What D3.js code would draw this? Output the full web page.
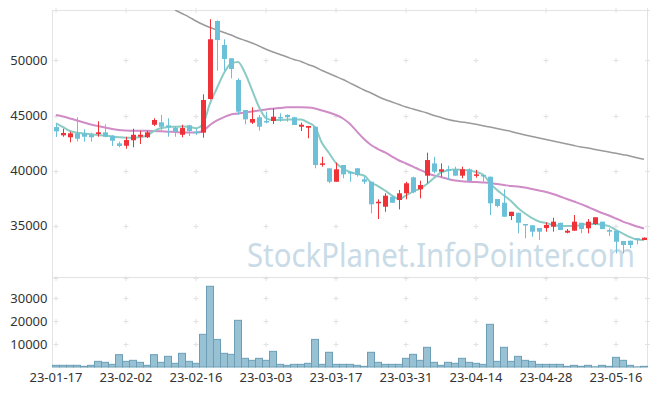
<!DOCTYPE html>
<html>
<head>
<meta charset="utf-8">
<script src="https://cdn.jsdelivr.net/npm/d3@7"></script>
<style>
  body { margin: 0; background: #fff; }
  text { font-family: "Noto Sans", sans-serif; }
</style>
</head>
<body>
<svg id="chart" width="657" height="396"></svg>
<script>
// trading days shown (yy-mm-dd)
var dates = ["23-01-17","23-01-18","23-01-19","23-01-20","23-01-25","23-01-26","23-01-27","23-01-30","23-01-31","23-02-01",
  "23-02-02","23-02-03","23-02-06","23-02-07","23-02-08","23-02-09","23-02-10","23-02-13","23-02-14","23-02-15",
  "23-02-16","23-02-17","23-02-20","23-02-21","23-02-22","23-02-23","23-02-24","23-02-27","23-02-28","23-03-02",
  "23-03-03","23-03-06","23-03-07","23-03-08","23-03-09","23-03-10","23-03-13","23-03-14","23-03-15","23-03-16",
  "23-03-17","23-03-20","23-03-21","23-03-22","23-03-23","23-03-24","23-03-27","23-03-28","23-03-29","23-03-30",
  "23-03-31","23-04-03","23-04-04","23-04-05","23-04-06","23-04-07","23-04-10","23-04-11","23-04-12","23-04-13",
  "23-04-14","23-04-17","23-04-18","23-04-19","23-04-20","23-04-21","23-04-24","23-04-25","23-04-26","23-04-27",
  "23-04-28","23-05-02","23-05-03","23-05-04","23-05-08","23-05-09","23-05-10","23-05-11","23-05-12","23-05-15",
  "23-05-16","23-05-17","23-05-18","23-05-19","23-05-22"];

var open = [43950,43200,43020,43380,43380,43230,43320,43470,43160,42470,
  42250,42750,43070,43020,44160,44380,44110,43890,43250,44110,
  43530,43440,46500,53590,51410,50200,48230,45500,44350,44840,
  44500,44500,44860,45050,44840,43980,43890,43980,40530,40200,
  38980,40500,39860,40200,39200,38980,37020,36710,37620,37320,
  37930,39380,38290,39530,40650,39890,40110,40110,39530,40110,
  39530,39590,39440,37410,37070,35860,36160,35140,35020,34770,
  34770,34890,35250,34350,34530,35250,34750,35140,35350,34590,
  34530,33590,33620,33840,33680];

var close = [43560,43410,43380,42890,43070,43020,43470,43070,42710,42230,
  42770,43250,43250,43470,44590,43980,43930,43500,43860,43590,
  43410,46410,51930,51860,50140,49230,45350,44650,44680,43980,
  44410,44890,44770,44840,44140,44160,44050,40500,40650,38980,
  40110,39650,39770,39590,38980,36930,37160,37710,37070,37930,
  38840,38020,38680,40950,39890,40110,40050,39530,40110,39050,
  39650,39500,37020,36770,35800,36250,35250,35020,34440,34440,
  35050,35350,34590,34530,35350,34680,35350,35750,34680,34440,
  33530,33230,33230,33680,33890];

var high = [44290,43800,43530,44840,43750,43440,44470,44200,43230,42620,
  43070,43800,43620,43620,44750,45050,44750,44050,44160,44160,
  43840,46930,53750,53650,51930,50200,48380,45500,45750,45050,
  45350,45650,45200,45110,44890,44350,44050,43980,41250,40200,
  40710,40500,39890,40200,39440,38980,37380,37930,37680,38230,
  38980,39440,39070,41620,41250,40650,40440,40350,40350,40200,
  40050,39590,39440,37410,38290,36250,36160,35140,35020,34770,
  35290,35710,35250,34680,35950,35250,35590,35750,35350,34750,
  34530,33590,33620,33840,33920];

var low = [43050,43070,42560,42650,42620,42620,43070,43020,42230,42110,
  41980,42110,42410,42950,44050,43620,43070,43070,43020,43140,
  43230,42980,46450,49070,49070,48380,45050,44200,44230,43620,
  44290,44230,44440,44440,44140,43590,42930,40200,40350,38840,
  38980,39290,38980,39440,38770,36110,35590,36250,37070,36470,
  37380,37930,37470,38840,39750,39440,39140,39530,39290,38980,
  39350,38980,35950,36650,35800,35500,34290,33840,33980,33680,
  34440,34440,34590,34290,34530,34290,34290,35050,34680,34050,
  32470,32470,32950,33290,33680];

var volume = [730,730,730,730,290,730,2460,2030,1160,5360,
  2460,2900,2030,730,5360,2030,4640,1600,5950,2460,
  1600,14200,35100,12000,5950,5500,20300,3770,2900,3770,
  2900,6800,1160,730,1160,1160,1600,12000,1160,6400,
  1160,1160,1160,730,290,6400,2030,1160,1160,1160,
  3770,5500,2900,8560,2030,730,2030,1600,3770,2030,
  1600,1160,18560,2460,8560,2460,4640,2900,2460,1160,
  1160,1160,1160,290,730,290,730,100,730,290,
  4200,2900,730,50,290];

var ma5 = [44290,43950,43590,43440,43360,43290,43230,43180,43090,43020,
  42980,42980,43020,43180,43590,43860,43950,43980,44000,43980,
  43840,44230,46110,47500,48860,49730,49860,48860,47320,45770,
  44770,44590,44590,44620,44640,44640,44360,43950,42500,41590,
  40680,40180,39860,39680,39550,38910,38590,38180,37730,37410,
  37730,38090,38360,38770,39320,39820,40020,40090,40050,40000,
  39860,39640,38860,38230,37730,37230,36590,36090,35680,35360,
  35230,35050,34980,34950,34950,35050,35140,35140,35090,34950,
  34590,34270,33950,33730,33680];

var ma20 = [45050,44910,44730,44550,44360,44180,44050,43910,43770,43680,
  43640,43620,43620,43620,43590,43560,43530,43500,43470,43450,
  43450,43590,44140,44550,44860,45090,45180,45270,45360,45450,
  45550,45620,45680,45750,45750,45750,45730,45640,45450,45270,
  45050,44730,44230,43530,42860,42320,41950,41640,41270,40910,
  40640,40360,40050,39770,39550,39410,39230,39090,39020,38980,
  38950,38910,38860,38770,38680,38590,38550,38450,38320,38180,
  38050,37860,37640,37410,37180,36950,36680,36410,36140,35910,
  35640,35360,35140,34910,34730];

// 60-day average runs above the top of the chart before 23-02-13
var ma60 = [null,null,null,null,null,null,null,null,null,null,
  null,null,null,null,null,null,null,54590,54270,53950,
  53590,53270,53000,52770,52550,52320,52050,51820,51590,51320,
  51020,50770,50550,50320,50090,49910,49640,49410,49090,48820,
  48550,48270,47950,47640,47320,47050,46730,46450,46230,46000,
  45770,45590,45410,45230,45000,44820,44640,44500,44410,44320,
  44200,44070,43950,43820,43680,43550,43380,43230,43090,42950,
  42820,42680,42550,42410,42270,42140,42050,41910,41800,41680,
  41560,41440,41320,41160,41020];

var xTicks = ["23-01-17","23-02-02","23-02-16","23-03-03","23-03-17","23-03-31","23-04-14","23-04-28","23-05-16"];
var priceTicks = [35000, 40000, 45000, 50000];
var volTicks = [10000, 20000, 30000];

var svg = d3.select("#chart");
var pLeft = 52.5, pRight = 647.5, pTop = 10, pMid = 278, pBottom = 367;

var x = d3.scaleBand().domain(dates).range([pLeft, pRight]).padding(0);
var cx = function (d) { return x(d) + x.bandwidth() / 2; };
var y = d3.scaleLinear().domain([30230, 54590]).range([pMid, pTop]);
var yv = d3.scaleLinear().domain([0, 38700]).range([pBottom, pMid]);

svg.append("defs").append("clipPath").attr("id", "clip")
  .append("rect").attr("x", pLeft).attr("y", pTop).attr("width", pRight - pLeft).attr("height", pMid - pTop);

// watermark
svg.append("text")
  .attr("x", 247).attr("y", 267)
  .attr("textLength", 388).attr("lengthAdjust", "spacingAndGlyphs")
  .style("font-size", "32px").style("fill", "#c9dbe6")
  .text("StockPlanet.InfoPointer.com");

// frame
var frame = svg.append("g").attr("stroke", "#e3e3e3").attr("stroke-width", 1);
frame.append("line").attr("x1", pLeft).attr("x2", pLeft).attr("y1", pTop).attr("y2", pBottom);
frame.append("line").attr("x1", pRight).attr("x2", pRight).attr("y1", pTop).attr("y2", pBottom);
frame.append("line").attr("x1", pLeft).attr("x2", pRight).attr("y1", pTop + 0.5).attr("y2", pTop + 0.5);
frame.append("line").attr("x1", pLeft).attr("x2", pRight).attr("y1", pMid - 0.5).attr("y2", pMid - 0.5);

// grid crosses
var gx = xTicks.map(cx).concat([pRight]);
var gy = [pTop].concat(priceTicks.map(y)).concat([pMid]).concat(volTicks.map(yv));
var crosses = [];
gx.forEach(function (a) { gy.forEach(function (b) { crosses.push([a, Math.round(b) + 0.5]); }); });
var cg = svg.append("g").attr("stroke", "#e2e2e2").attr("stroke-width", 1);
cg.selectAll(".h").data(crosses).enter().append("line")
  .attr("x1", function (d) { return d[0] - 2.5; }).attr("x2", function (d) { return d[0] + 2.5; })
  .attr("y1", function (d) { return d[1]; }).attr("y2", function (d) { return d[1]; });
cg.selectAll(".v").data(crosses).enter().append("line")
  .attr("x1", function (d) { return d[0]; }).attr("x2", function (d) { return d[0]; })
  .attr("y1", function (d) { return d[1] - 2.5; }).attr("y2", function (d) { return d[1] + 2.5; });

// volume bars
svg.append("g").selectAll("rect").data(dates).enter().append("rect")
  .attr("x", function (d) { return x(d); })
  .attr("width", x.bandwidth())
  .attr("y", function (d, i) { return yv(volume[i]); })
  .attr("height", function (d, i) { return pBottom - yv(volume[i]); })
  .attr("fill", "#98c1d3")
  .attr("stroke", "#6c9fb6")
  .attr("stroke-width", 1);

var plot = svg.append("g").attr("clip-path", "url(#clip)");

// moving averages
function maLine(arr, color, w) {
  var line = d3.line()
    .defined(function (d, i) { return arr[i] != null; })
    .x(function (d) { return cx(d); })
    .y(function (d, i) { return y(arr[i]); })
    .curve(d3.curveMonotoneX);
  plot.append("path").datum(dates).attr("d", line)
    .attr("fill", "none").attr("stroke", color).attr("stroke-width", w);
}
maLine(ma60, "#9a9a9a", 1.5);
maLine(ma20, "#cf8cc6", 2);
maLine(ma5, "#8ccbc4", 2);

// candles
var up = "#ef3138", down = "#6cc1d8";
var candle = plot.selectAll(".candle").data(dates).enter().append("g");
candle.append("line")
  .attr("x1", function (d) { return Math.floor(cx(d)) + 0.5; })
  .attr("x2", function (d) { return Math.floor(cx(d)) + 0.5; })
  .attr("y1", function (d, i) { return y(high[i]); })
  .attr("y2", function (d, i) { return y(low[i]); })
  .attr("stroke", function (d, i) { return close[i] >= open[i] ? up : down; })
  .attr("stroke-width", 1);
candle.append("rect")
  .attr("x", function (d) { return Math.floor(cx(d)) - 2; })
  .attr("width", 5)
  .attr("y", function (d, i) { return y(Math.max(open[i], close[i])); })
  .attr("height", function (d, i) { return Math.max(1.5, Math.abs(y(open[i]) - y(close[i]))); })
  .attr("fill", function (d, i) { return close[i] >= open[i] ? up : down; });

// axes
function style(g) {
  g.select(".domain").remove();
  g.selectAll("text").style("font-size", "13px").style("fill", "#333");
}
svg.append("g").attr("transform", "translate(" + pLeft + ",0)")
  .call(d3.axisLeft(y).tickValues(priceTicks).tickSize(0).tickPadding(5).tickFormat(d3.format("d")))
  .call(style);
svg.append("g").attr("transform", "translate(" + pLeft + ",0)")
  .call(d3.axisLeft(yv).tickValues(volTicks).tickSize(0).tickPadding(5).tickFormat(d3.format("d")))
  .call(style);
svg.append("g").attr("transform", "translate(0," + pBottom + ")")
  .call(d3.axisBottom(x).tickValues(xTicks).tickSize(0).tickPadding(6))
  .call(style);
</script>
</body>
</html>
